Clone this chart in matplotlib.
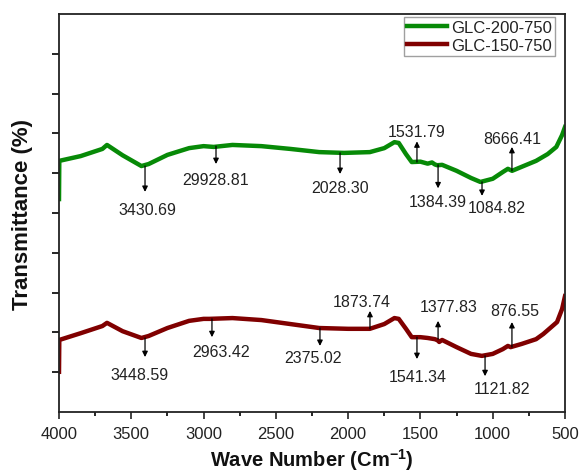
import matplotlib
matplotlib.use("Agg")
import matplotlib.pyplot as plt
import numpy as np

plt.rcParams['font.family'] = ['Liberation Sans', 'DejaVu Sans']
plt.rcParams['mathtext.fontset'] = 'custom'
plt.rcParams['mathtext.rm'] = 'Liberation Sans'
plt.rcParams['mathtext.bf'] = 'Liberation Sans:bold'

# ---- data ----
wn_green = [4000, 3998, 3850, 3700, 3668, 3560, 3430, 3380, 3250, 3100, 3000, 2930, 2800,
            2600, 2400, 2200, 2028, 1850, 1750, 1680, 1650, 1600, 1560, 1500, 1450, 1420,
            1400, 1384, 1350, 1250, 1150, 1085, 1000, 930, 895, 866, 800, 700, 620, 560, 520, 500]
t_green = [5.35, 6.31, 6.43, 6.61, 6.71, 6.45, 6.18, 6.23, 6.46, 6.63, 6.68, 6.66, 6.71,
           6.68, 6.61, 6.53, 6.51, 6.53, 6.63, 6.78, 6.76, 6.48, 6.28, 6.29, 6.24, 6.27,
           6.22, 6.20, 6.21, 6.06, 5.88, 5.78, 5.86, 6.03, 6.11, 6.06, 6.16, 6.31, 6.48, 6.66, 6.96, 7.16]

wn_red = [4000, 3998, 3850, 3700, 3668, 3560, 3430, 3380, 3250, 3100, 3000, 2960, 2800,
          2600, 2400, 2200, 2000, 1850, 1750, 1680, 1650, 1600, 1560, 1500, 1450, 1400,
          1380, 1370, 1350, 1250, 1150, 1075, 1000, 930, 895, 876, 800, 700, 650, 555, 520, 500]
t_red = [1.01, 1.81, 1.98, 2.16, 2.24, 2.03, 1.86, 1.91, 2.11, 2.29, 2.34, 2.34, 2.36,
         2.31, 2.21, 2.11, 2.09, 2.09, 2.21, 2.36, 2.34, 2.09, 1.88, 1.88, 1.86, 1.83,
         1.80, 1.76, 1.81, 1.63, 1.46, 1.41, 1.46, 1.58, 1.66, 1.63, 1.71, 1.83, 1.96, 2.26, 2.59, 2.91]

series_names = ['GLC-200-750', 'GLC-150-750']

# peak annotations: label, arrow x, arrow base y, arrow tip y, text x, text y
g_labels = ['3430.69', '29928.81', '2028.30', '1531.79', '1384.39', '1084.82', '8666.41']
g_arrow_x = [3405, 2914, 2056, 1524, 1378, 1074, 867]
g_base = [6.18, 6.68, 6.51, 6.28, 6.21, 5.78, 6.06]
g_tip = [5.53, 6.23, 5.98, 6.80, 5.62, 5.43, 6.66]
g_text_x = [3391, 2914, 2056, 1524, 1380, 970, 867]
g_text_y = [5.08, 5.85, 5.63, 7.06, 5.30, 5.13, 6.88]

r_labels = ['3448.59', '2963.42', '2375.02', '1873.74', '1377.83', '1541.34', '1121.82', '876.55']
r_arrow_x = [3405, 2942, 2195, 1849, 1378, 1524, 1053, 867]
r_base = [1.86, 2.34, 2.11, 2.09, 1.83, 1.88, 1.41, 1.63]
r_tip = [1.38, 1.88, 1.66, 2.54, 2.29, 1.33, 0.90, 2.26]
r_text_x = [3440, 2879, 2243, 1904, 1302, 1517, 936, 846]
r_text_y = [0.95, 1.51, 1.38, 2.77, 2.66, 0.90, 0.60, 2.56]

x_ticks = [4000, 3500, 3000, 2500, 2000, 1500, 1000, 500]

# ---- plot ----
fig = plt.figure(figsize=(5.8, 4.77), dpi=100)
ax = fig.add_axes([59/580, 64/477, 506/580, 398/477])

green = '#078a07'
red = '#800000'
ax.plot(wn_green, t_green, color=green, lw=3.2, label=series_names[0], solid_joinstyle='round')
ax.plot(wn_red, t_red, color=red, lw=3.2, label=series_names[1], solid_joinstyle='round')

ax.set_xlim(4000, 500)
ax.set_ylim(0, 10)
ax.set_xticks(x_ticks)
ax.set_xticks(np.arange(3750, 500, -500), minor=True)
ax.set_yticks(np.arange(1, 10, 1))
ax.set_yticklabels([])
ax.tick_params(axis='x', which='major', direction='out', length=5, width=1.2, labelsize=12, colors='#222222', pad=5)
ax.tick_params(axis='x', which='minor', direction='out', length=3, width=1.2)
ax.tick_params(axis='y', which='major', direction='out', length=5, width=1.2)
for s in ax.spines.values():
    s.set_linewidth(1.3)
    s.set_color('#222222')

ax.set_xlabel(r'Wave Number (Cm$^{\mathbf{-1}}$)', fontsize=14.5, fontweight='bold', labelpad=4, color='#111111')
ax.set_ylabel('Transmittance (%)', fontsize=16, fontweight='bold', labelpad=10, color='#111111')

def draw_peaks(labels, ax_x, base, tip, tx, ty):
    for lab, x, b, t, xx, yy in zip(labels, ax_x, base, tip, tx, ty):
        ax.annotate('', xy=(x, t), xytext=(x, b),
                    arrowprops=dict(arrowstyle='-|>', color='black', lw=0.9,
                                    mutation_scale=8, shrinkA=0, shrinkB=0))
        ax.text(xx, yy, lab, ha='center', va='center', fontsize=11.5, color='#222222')

draw_peaks(g_labels, g_arrow_x, g_base, g_tip, g_text_x, g_text_y)
draw_peaks(r_labels, r_arrow_x, r_base, r_tip, r_text_x, r_text_y)

leg = ax.legend(loc='upper right', bbox_to_anchor=(0.980, 0.9925), borderaxespad=0,
                fontsize=12, frameon=True, fancybox=False, edgecolor='#888888',
                handlelength=2.4, handletextpad=0.2, borderpad=0.2, labelspacing=0.15)
leg.get_frame().set_linewidth(1.0)
for t in leg.get_texts():
    t.set_color('#222222')

fig.savefig('out.png', dpi=100)
